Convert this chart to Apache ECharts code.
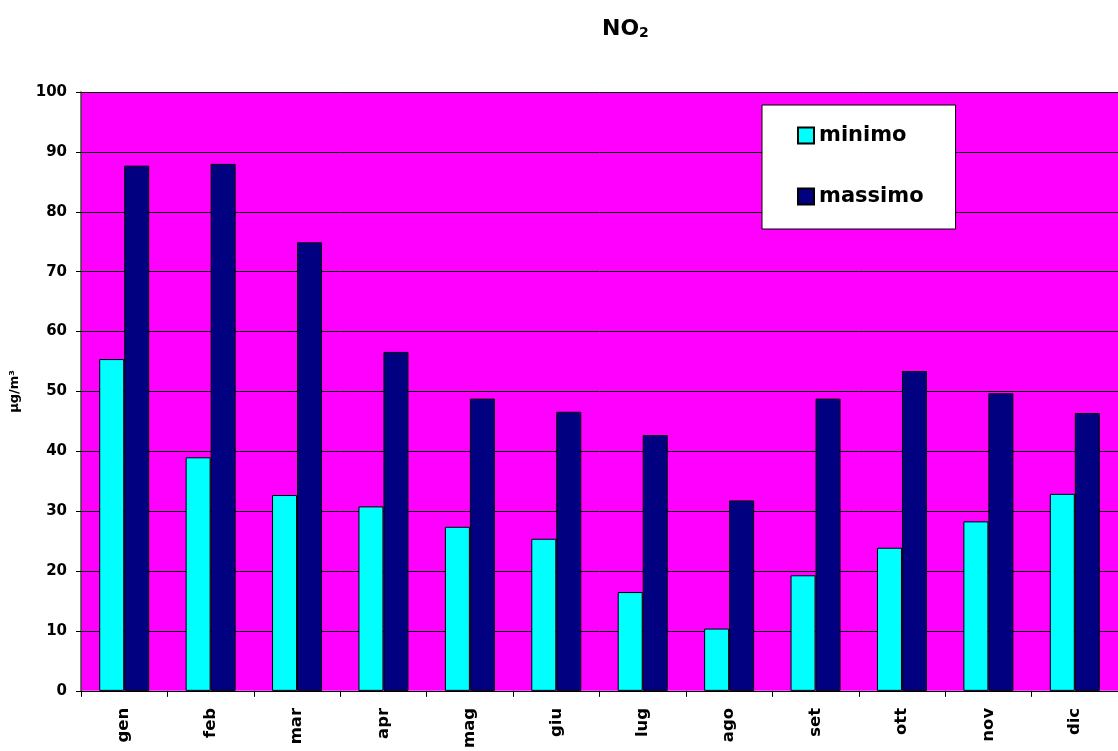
<!DOCTYPE html>
<html>
<head>
<meta charset="utf-8">
<title>NO2</title>
<script src="https://cdn.jsdelivr.net/npm/echarts@6/dist/echarts.min.js"></script>
<style>
  html, body { margin: 0; padding: 0; background: #ffffff; }
  #chart { width: 1118px; height: 751px; }
</style>
</head>
<body>
<div id="chart"></div>
<script>
// Monthly NO2 concentrations (µg/m³)
const months = ['gen', 'feb', 'mar', 'apr', 'mag', 'giu', 'lug', 'ago', 'set', 'ott', 'nov', 'dic'];
const minimo = [55.4, 39.0, 32.7, 30.8, 27.4, 25.4, 16.5, 10.4, 19.3, 23.9, 28.3, 32.9];
const massimo = [87.7, 88.0, 74.9, 56.6, 48.8, 46.6, 42.7, 31.8, 48.8, 53.4, 49.7, 46.4];
const yTicks = { min: 0, max: 100, step: 10 };

const FONT = '"DejaVu Sans", "Liberation Sans", Arial, sans-serif';

const chart = echarts.init(document.getElementById('chart'), null, { renderer: 'canvas' });

chart.setOption({
  backgroundColor: '#ffffff',
  animation: false,
  title: {
    text: '{a|NO}{b|2}',
    left: 597,
    top: 7,
    textStyle: {
      rich: {
        a: { fontFamily: FONT, fontWeight: 'bold', fontSize: 22, color: '#000', verticalAlign: 'bottom', lineHeight: 28 },
        b: { fontFamily: FONT, fontWeight: 'bold', fontSize: 14, color: '#000', verticalAlign: 'bottom', lineHeight: 20 }
      }
    }
  },
  legend: {
    orient: 'vertical',
    left: 762,
    top: 105,
    icon: 'rect',
    itemWidth: 16,
    itemHeight: 16,
    itemGap: 40,
    padding: [20, 32, 22, 35],
    backgroundColor: '#ffffff',
    borderColor: '#000000',
    borderWidth: 1,
    borderRadius: 0,
    textStyle: { fontFamily: FONT, fontWeight: 'bold', fontSize: 21, color: '#000' },
    data: ['minimo', 'massimo']
  },
  grid: {
    left: 81,
    top: 92,
    right: -7,
    bottom: 59,
    show: true,
    backgroundColor: '#ff00ff',
    borderWidth: 0
  },
  xAxis: {
    type: 'category',
    data: months,
    boundaryGap: true,
    axisLine: { show: true, lineStyle: { color: '#000', width: 1 } },
    axisTick: { show: true, length: 6, lineStyle: { color: '#000' } },
    axisLabel: {
      rotate: 90,
      margin: 17,
      fontFamily: FONT,
      fontWeight: 'bold',
      fontSize: 16.5,
      color: '#000'
    }
  },
  yAxis: {
    type: 'value',
    min: yTicks.min,
    max: yTicks.max,
    interval: yTicks.step,
    name: 'µg/m³',
    nameLocation: 'middle',
    nameGap: 60,
    nameRotate: 90,
    nameTextStyle: { fontFamily: FONT, fontWeight: 'bold', fontSize: 13, color: '#000' },
    axisLine: { show: true, lineStyle: { color: '#444', width: 1.5 } },
    axisTick: { show: true, length: 5, lineStyle: { color: '#000' } },
    axisLabel: {
      margin: 14,
      fontFamily: FONT,
      fontWeight: 'bold',
      fontSize: 15,
      color: '#000'
    },
    splitLine: { show: true, lineStyle: { color: '#000', width: 1 } }
  },
  series: [
    {
      name: 'minimo',
      type: 'bar',
      data: minimo,
      barWidth: 25,
      barGap: '0%',
      itemStyle: { color: '#00ffff', borderColor: '#000', borderWidth: 1 }
    },
    {
      name: 'massimo',
      type: 'bar',
      data: massimo,
      barWidth: 25,
      barGap: '0%',
      itemStyle: { color: '#000080', borderColor: '#000', borderWidth: 1 }
    }
  ]
});
</script>
</body>
</html>
